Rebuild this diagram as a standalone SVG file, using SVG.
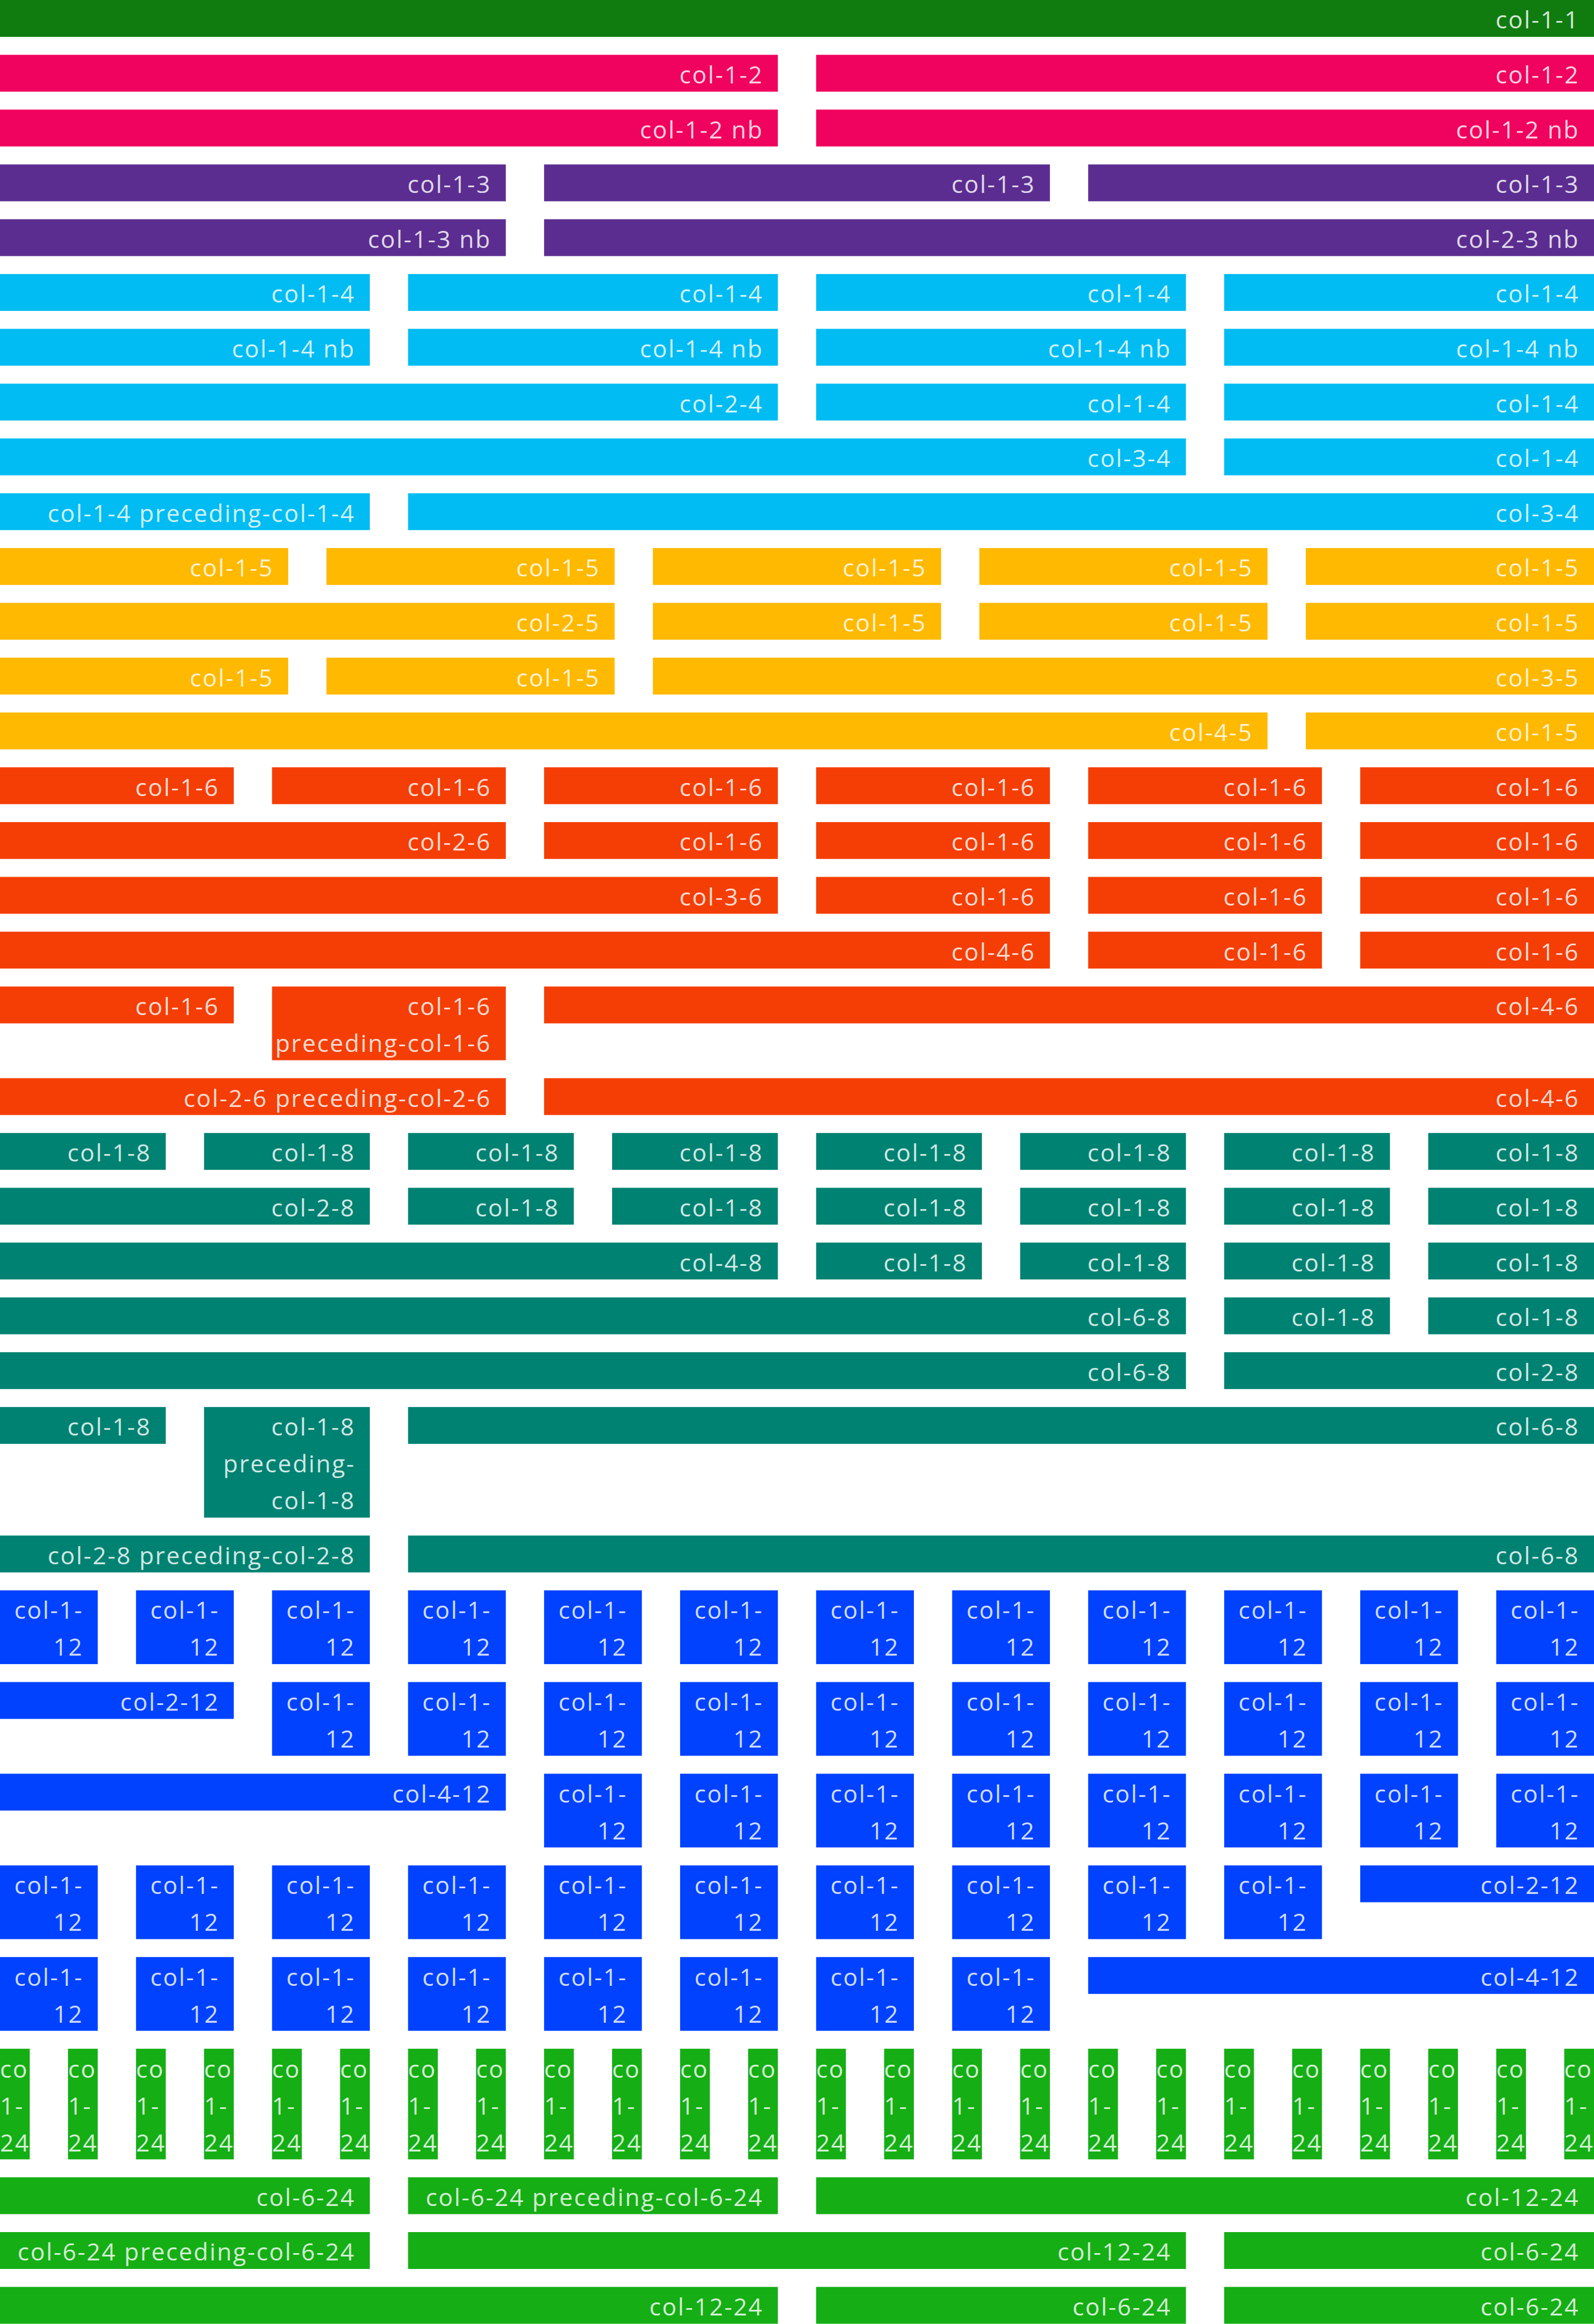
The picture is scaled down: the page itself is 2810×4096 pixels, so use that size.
<svg xmlns="http://www.w3.org/2000/svg" width="2810" height="4096" viewBox="0 0 2810 4096">
<style>
.t{font-family:"Open Sans","Noto Sans","Liberation Sans",sans-serif;font-size:48px;font-weight:400;letter-spacing:2.7px;fill:#fff;fill-opacity:.84;text-anchor:end}
.s{text-anchor:start}
.c1{fill:#107C10}.c2{fill:#F0035E}.c3{fill:#5C2D91}.c4{fill:#00BCF2}.c5{fill:#FFB900}.c6{fill:#F43E06}.c8{fill:#008272}.c12{fill:#0042FF}.c24{fill:#15AE15}
</style>
<rect width="2810" height="4096" fill="#fff"/>
<g transform="scale(0.878125)">
<!-- row 1 -->
<g id="r1b1" transform="translate(0,0)"><rect class="c1" width="3200" height="74"/><text class="t" x="3171" y="57.5">col-1-1</text></g>
<!-- row 2 -->
<g id="r2b1" transform="translate(0,110)"><rect class="c2" width="1561.6" height="74"/><text class="t" x="1532.6" y="57.5">col-1-2</text></g>
<g id="r2b2" transform="translate(1638.4,110)"><rect class="c2" width="1561.6" height="74"/><text class="t" x="1532.6" y="57.5">col-1-2</text></g>
<!-- row 3 -->
<g id="r3b1" transform="translate(0,220)"><rect class="c2" width="1561.6" height="74"/><text class="t" x="1532.6" y="57.5">col-1-2 nb</text></g>
<g id="r3b2" transform="translate(1638.4,220)"><rect class="c2" width="1561.6" height="74"/><text class="t" x="1532.6" y="57.5">col-1-2 nb</text></g>
<!-- row 4 -->
<g id="r4b1" transform="translate(0,330)"><rect class="c3" width="1015.47" height="74"/><text class="t" x="986.47" y="57.5">col-1-3</text></g>
<g id="r4b2" transform="translate(1092.27,330)"><rect class="c3" width="1015.47" height="74"/><text class="t" x="986.47" y="57.5">col-1-3</text></g>
<g id="r4b3" transform="translate(2184.53,330)"><rect class="c3" width="1015.47" height="74"/><text class="t" x="986.47" y="57.5">col-1-3</text></g>
<!-- row 5 -->
<g id="r5b1" transform="translate(0,440)"><rect class="c3" width="1015.47" height="74"/><text class="t" x="986.47" y="57.5">col-1-3 nb</text></g>
<g id="r5b2" transform="translate(1092.27,440)"><rect class="c3" width="2107.73" height="74"/><text class="t" x="2078.73" y="57.5">col-2-3 nb</text></g>
<!-- row 6 -->
<g id="r6b1" transform="translate(0,550)"><rect class="c4" width="742.4" height="74"/><text class="t" x="713.4" y="57.5">col-1-4</text></g>
<g id="r6b2" transform="translate(819.2,550)"><rect class="c4" width="742.4" height="74"/><text class="t" x="713.4" y="57.5">col-1-4</text></g>
<g id="r6b3" transform="translate(1638.4,550)"><rect class="c4" width="742.4" height="74"/><text class="t" x="713.4" y="57.5">col-1-4</text></g>
<g id="r6b4" transform="translate(2457.6,550)"><rect class="c4" width="742.4" height="74"/><text class="t" x="713.4" y="57.5">col-1-4</text></g>
<!-- row 7 -->
<g id="r7b1" transform="translate(0,660)"><rect class="c4" width="742.4" height="74"/><text class="t" x="713.4" y="57.5">col-1-4 nb</text></g>
<g id="r7b2" transform="translate(819.2,660)"><rect class="c4" width="742.4" height="74"/><text class="t" x="713.4" y="57.5">col-1-4 nb</text></g>
<g id="r7b3" transform="translate(1638.4,660)"><rect class="c4" width="742.4" height="74"/><text class="t" x="713.4" y="57.5">col-1-4 nb</text></g>
<g id="r7b4" transform="translate(2457.6,660)"><rect class="c4" width="742.4" height="74"/><text class="t" x="713.4" y="57.5">col-1-4 nb</text></g>
<!-- row 8 -->
<g id="r8b1" transform="translate(0,770)"><rect class="c4" width="1561.6" height="74"/><text class="t" x="1532.6" y="57.5">col-2-4</text></g>
<g id="r8b2" transform="translate(1638.4,770)"><rect class="c4" width="742.4" height="74"/><text class="t" x="713.4" y="57.5">col-1-4</text></g>
<g id="r8b3" transform="translate(2457.6,770)"><rect class="c4" width="742.4" height="74"/><text class="t" x="713.4" y="57.5">col-1-4</text></g>
<!-- row 9 -->
<g id="r9b1" transform="translate(0,880)"><rect class="c4" width="2380.8" height="74"/><text class="t" x="2351.8" y="57.5">col-3-4</text></g>
<g id="r9b2" transform="translate(2457.6,880)"><rect class="c4" width="742.4" height="74"/><text class="t" x="713.4" y="57.5">col-1-4</text></g>
<!-- row 10 -->
<g id="r10b1" transform="translate(0,990)"><rect class="c4" width="742.4" height="74"/><text class="t" x="713.4" y="57.5">col-1-4 preceding-col-1-4</text></g>
<g id="r10b2" transform="translate(819.2,990)"><rect class="c4" width="2380.8" height="74"/><text class="t" x="2351.8" y="57.5">col-3-4</text></g>
<!-- row 11 -->
<g id="r11b1" transform="translate(0,1100)"><rect class="c5" width="578.56" height="74"/><text class="t" x="549.56" y="57.5">col-1-5</text></g>
<g id="r11b2" transform="translate(655.36,1100)"><rect class="c5" width="578.56" height="74"/><text class="t" x="549.56" y="57.5">col-1-5</text></g>
<g id="r11b3" transform="translate(1310.72,1100)"><rect class="c5" width="578.56" height="74"/><text class="t" x="549.56" y="57.5">col-1-5</text></g>
<g id="r11b4" transform="translate(1966.08,1100)"><rect class="c5" width="578.56" height="74"/><text class="t" x="549.56" y="57.5">col-1-5</text></g>
<g id="r11b5" transform="translate(2621.44,1100)"><rect class="c5" width="578.56" height="74"/><text class="t" x="549.56" y="57.5">col-1-5</text></g>
<!-- row 12 -->
<g id="r12b1" transform="translate(0,1210)"><rect class="c5" width="1233.92" height="74"/><text class="t" x="1204.92" y="57.5">col-2-5</text></g>
<g id="r12b2" transform="translate(1310.72,1210)"><rect class="c5" width="578.56" height="74"/><text class="t" x="549.56" y="57.5">col-1-5</text></g>
<g id="r12b3" transform="translate(1966.08,1210)"><rect class="c5" width="578.56" height="74"/><text class="t" x="549.56" y="57.5">col-1-5</text></g>
<g id="r12b4" transform="translate(2621.44,1210)"><rect class="c5" width="578.56" height="74"/><text class="t" x="549.56" y="57.5">col-1-5</text></g>
<!-- row 13 -->
<g id="r13b1" transform="translate(0,1320)"><rect class="c5" width="578.56" height="74"/><text class="t" x="549.56" y="57.5">col-1-5</text></g>
<g id="r13b2" transform="translate(655.36,1320)"><rect class="c5" width="578.56" height="74"/><text class="t" x="549.56" y="57.5">col-1-5</text></g>
<g id="r13b3" transform="translate(1310.72,1320)"><rect class="c5" width="1889.28" height="74"/><text class="t" x="1860.28" y="57.5">col-3-5</text></g>
<!-- row 14 -->
<g id="r14b1" transform="translate(0,1430)"><rect class="c5" width="2544.64" height="74"/><text class="t" x="2515.64" y="57.5">col-4-5</text></g>
<g id="r14b2" transform="translate(2621.44,1430)"><rect class="c5" width="578.56" height="74"/><text class="t" x="549.56" y="57.5">col-1-5</text></g>
<!-- row 15 -->
<g id="r15b1" transform="translate(0,1540)"><rect class="c6" width="469.33" height="74"/><text class="t" x="440.33" y="57.5">col-1-6</text></g>
<g id="r15b2" transform="translate(546.13,1540)"><rect class="c6" width="469.33" height="74"/><text class="t" x="440.33" y="57.5">col-1-6</text></g>
<g id="r15b3" transform="translate(1092.27,1540)"><rect class="c6" width="469.33" height="74"/><text class="t" x="440.33" y="57.5">col-1-6</text></g>
<g id="r15b4" transform="translate(1638.4,1540)"><rect class="c6" width="469.33" height="74"/><text class="t" x="440.33" y="57.5">col-1-6</text></g>
<g id="r15b5" transform="translate(2184.53,1540)"><rect class="c6" width="469.33" height="74"/><text class="t" x="440.33" y="57.5">col-1-6</text></g>
<g id="r15b6" transform="translate(2730.67,1540)"><rect class="c6" width="469.33" height="74"/><text class="t" x="440.33" y="57.5">col-1-6</text></g>
<!-- row 16 -->
<g id="r16b1" transform="translate(0,1650)"><rect class="c6" width="1015.47" height="74"/><text class="t" x="986.47" y="57.5">col-2-6</text></g>
<g id="r16b2" transform="translate(1092.27,1650)"><rect class="c6" width="469.33" height="74"/><text class="t" x="440.33" y="57.5">col-1-6</text></g>
<g id="r16b3" transform="translate(1638.4,1650)"><rect class="c6" width="469.33" height="74"/><text class="t" x="440.33" y="57.5">col-1-6</text></g>
<g id="r16b4" transform="translate(2184.53,1650)"><rect class="c6" width="469.33" height="74"/><text class="t" x="440.33" y="57.5">col-1-6</text></g>
<g id="r16b5" transform="translate(2730.67,1650)"><rect class="c6" width="469.33" height="74"/><text class="t" x="440.33" y="57.5">col-1-6</text></g>
<!-- row 17 -->
<g id="r17b1" transform="translate(0,1760)"><rect class="c6" width="1561.6" height="74"/><text class="t" x="1532.6" y="57.5">col-3-6</text></g>
<g id="r17b2" transform="translate(1638.4,1760)"><rect class="c6" width="469.33" height="74"/><text class="t" x="440.33" y="57.5">col-1-6</text></g>
<g id="r17b3" transform="translate(2184.53,1760)"><rect class="c6" width="469.33" height="74"/><text class="t" x="440.33" y="57.5">col-1-6</text></g>
<g id="r17b4" transform="translate(2730.67,1760)"><rect class="c6" width="469.33" height="74"/><text class="t" x="440.33" y="57.5">col-1-6</text></g>
<!-- row 18 -->
<g id="r18b1" transform="translate(0,1870)"><rect class="c6" width="2107.73" height="74"/><text class="t" x="2078.73" y="57.5">col-4-6</text></g>
<g id="r18b2" transform="translate(2184.53,1870)"><rect class="c6" width="469.33" height="74"/><text class="t" x="440.33" y="57.5">col-1-6</text></g>
<g id="r18b3" transform="translate(2730.67,1870)"><rect class="c6" width="469.33" height="74"/><text class="t" x="440.33" y="57.5">col-1-6</text></g>
<!-- row 19 -->
<g id="r19b1" transform="translate(0,1980)"><rect class="c6" width="469.33" height="74"/><text class="t" x="440.33" y="57.5">col-1-6</text></g>
<g id="r19b2" transform="translate(546.13,1980)"><rect class="c6" width="469.33" height="148"/><text class="t"><tspan x="440.33" y="57.5">col-1-6</tspan><tspan x="440.33" y="131.5">preceding-col-1-6</tspan></text></g>
<g id="r19b3" transform="translate(1092.27,1980)"><rect class="c6" width="2107.73" height="74"/><text class="t" x="2078.73" y="57.5">col-4-6</text></g>
<!-- row 20 -->
<g id="r20b1" transform="translate(0,2164)"><rect class="c6" width="1015.47" height="74"/><text class="t" x="986.47" y="57.5">col-2-6 preceding-col-2-6</text></g>
<g id="r20b2" transform="translate(1092.27,2164)"><rect class="c6" width="2107.73" height="74"/><text class="t" x="2078.73" y="57.5">col-4-6</text></g>
<!-- row 21 -->
<g id="r21b1" transform="translate(0,2274)"><rect class="c8" width="332.8" height="74"/><text class="t" x="303.8" y="57.5">col-1-8</text></g>
<g id="r21b2" transform="translate(409.6,2274)"><rect class="c8" width="332.8" height="74"/><text class="t" x="303.8" y="57.5">col-1-8</text></g>
<g id="r21b3" transform="translate(819.2,2274)"><rect class="c8" width="332.8" height="74"/><text class="t" x="303.8" y="57.5">col-1-8</text></g>
<g id="r21b4" transform="translate(1228.8,2274)"><rect class="c8" width="332.8" height="74"/><text class="t" x="303.8" y="57.5">col-1-8</text></g>
<g id="r21b5" transform="translate(1638.4,2274)"><rect class="c8" width="332.8" height="74"/><text class="t" x="303.8" y="57.5">col-1-8</text></g>
<g id="r21b6" transform="translate(2048,2274)"><rect class="c8" width="332.8" height="74"/><text class="t" x="303.8" y="57.5">col-1-8</text></g>
<g id="r21b7" transform="translate(2457.6,2274)"><rect class="c8" width="332.8" height="74"/><text class="t" x="303.8" y="57.5">col-1-8</text></g>
<g id="r21b8" transform="translate(2867.2,2274)"><rect class="c8" width="332.8" height="74"/><text class="t" x="303.8" y="57.5">col-1-8</text></g>
<!-- row 22 -->
<g id="r22b1" transform="translate(0,2384)"><rect class="c8" width="742.4" height="74"/><text class="t" x="713.4" y="57.5">col-2-8</text></g>
<g id="r22b2" transform="translate(819.2,2384)"><rect class="c8" width="332.8" height="74"/><text class="t" x="303.8" y="57.5">col-1-8</text></g>
<g id="r22b3" transform="translate(1228.8,2384)"><rect class="c8" width="332.8" height="74"/><text class="t" x="303.8" y="57.5">col-1-8</text></g>
<g id="r22b4" transform="translate(1638.4,2384)"><rect class="c8" width="332.8" height="74"/><text class="t" x="303.8" y="57.5">col-1-8</text></g>
<g id="r22b5" transform="translate(2048,2384)"><rect class="c8" width="332.8" height="74"/><text class="t" x="303.8" y="57.5">col-1-8</text></g>
<g id="r22b6" transform="translate(2457.6,2384)"><rect class="c8" width="332.8" height="74"/><text class="t" x="303.8" y="57.5">col-1-8</text></g>
<g id="r22b7" transform="translate(2867.2,2384)"><rect class="c8" width="332.8" height="74"/><text class="t" x="303.8" y="57.5">col-1-8</text></g>
<!-- row 23 -->
<g id="r23b1" transform="translate(0,2494)"><rect class="c8" width="1561.6" height="74"/><text class="t" x="1532.6" y="57.5">col-4-8</text></g>
<g id="r23b2" transform="translate(1638.4,2494)"><rect class="c8" width="332.8" height="74"/><text class="t" x="303.8" y="57.5">col-1-8</text></g>
<g id="r23b3" transform="translate(2048,2494)"><rect class="c8" width="332.8" height="74"/><text class="t" x="303.8" y="57.5">col-1-8</text></g>
<g id="r23b4" transform="translate(2457.6,2494)"><rect class="c8" width="332.8" height="74"/><text class="t" x="303.8" y="57.5">col-1-8</text></g>
<g id="r23b5" transform="translate(2867.2,2494)"><rect class="c8" width="332.8" height="74"/><text class="t" x="303.8" y="57.5">col-1-8</text></g>
<!-- row 24 -->
<g id="r24b1" transform="translate(0,2604)"><rect class="c8" width="2380.8" height="74"/><text class="t" x="2351.8" y="57.5">col-6-8</text></g>
<g id="r24b2" transform="translate(2457.6,2604)"><rect class="c8" width="332.8" height="74"/><text class="t" x="303.8" y="57.5">col-1-8</text></g>
<g id="r24b3" transform="translate(2867.2,2604)"><rect class="c8" width="332.8" height="74"/><text class="t" x="303.8" y="57.5">col-1-8</text></g>
<!-- row 25 -->
<g id="r25b1" transform="translate(0,2714)"><rect class="c8" width="2380.8" height="74"/><text class="t" x="2351.8" y="57.5">col-6-8</text></g>
<g id="r25b2" transform="translate(2457.6,2714)"><rect class="c8" width="742.4" height="74"/><text class="t" x="713.4" y="57.5">col-2-8</text></g>
<!-- row 26 -->
<g id="r26b1" transform="translate(0,2824)"><rect class="c8" width="332.8" height="74"/><text class="t" x="303.8" y="57.5">col-1-8</text></g>
<g id="r26b2" transform="translate(409.6,2824)"><rect class="c8" width="332.8" height="222"/><text class="t"><tspan x="303.8" y="57.5">col-1-8</tspan><tspan x="303.8" y="131.5">preceding-</tspan><tspan x="303.8" y="205.5">col-1-8</tspan></text></g>
<g id="r26b3" transform="translate(819.2,2824)"><rect class="c8" width="2380.8" height="74"/><text class="t" x="2351.8" y="57.5">col-6-8</text></g>
<!-- row 27 -->
<g id="r27b1" transform="translate(0,3082)"><rect class="c8" width="742.4" height="74"/><text class="t" x="713.4" y="57.5">col-2-8 preceding-col-2-8</text></g>
<g id="r27b2" transform="translate(819.2,3082)"><rect class="c8" width="2380.8" height="74"/><text class="t" x="2351.8" y="57.5">col-6-8</text></g>
<!-- row 28 -->
<g id="r28b1" transform="translate(0,3192)"><rect class="c12" width="196.27" height="148"/><text class="t"><tspan x="167.27" y="57.5">col-1-</tspan><tspan x="167.27" y="131.5">12</tspan></text></g>
<g id="r28b2" transform="translate(273.07,3192)"><rect class="c12" width="196.27" height="148"/><text class="t"><tspan x="167.27" y="57.5">col-1-</tspan><tspan x="167.27" y="131.5">12</tspan></text></g>
<g id="r28b3" transform="translate(546.13,3192)"><rect class="c12" width="196.27" height="148"/><text class="t"><tspan x="167.27" y="57.5">col-1-</tspan><tspan x="167.27" y="131.5">12</tspan></text></g>
<g id="r28b4" transform="translate(819.2,3192)"><rect class="c12" width="196.27" height="148"/><text class="t"><tspan x="167.27" y="57.5">col-1-</tspan><tspan x="167.27" y="131.5">12</tspan></text></g>
<g id="r28b5" transform="translate(1092.27,3192)"><rect class="c12" width="196.27" height="148"/><text class="t"><tspan x="167.27" y="57.5">col-1-</tspan><tspan x="167.27" y="131.5">12</tspan></text></g>
<g id="r28b6" transform="translate(1365.33,3192)"><rect class="c12" width="196.27" height="148"/><text class="t"><tspan x="167.27" y="57.5">col-1-</tspan><tspan x="167.27" y="131.5">12</tspan></text></g>
<g id="r28b7" transform="translate(1638.4,3192)"><rect class="c12" width="196.27" height="148"/><text class="t"><tspan x="167.27" y="57.5">col-1-</tspan><tspan x="167.27" y="131.5">12</tspan></text></g>
<g id="r28b8" transform="translate(1911.47,3192)"><rect class="c12" width="196.27" height="148"/><text class="t"><tspan x="167.27" y="57.5">col-1-</tspan><tspan x="167.27" y="131.5">12</tspan></text></g>
<g id="r28b9" transform="translate(2184.53,3192)"><rect class="c12" width="196.27" height="148"/><text class="t"><tspan x="167.27" y="57.5">col-1-</tspan><tspan x="167.27" y="131.5">12</tspan></text></g>
<g id="r28b10" transform="translate(2457.6,3192)"><rect class="c12" width="196.27" height="148"/><text class="t"><tspan x="167.27" y="57.5">col-1-</tspan><tspan x="167.27" y="131.5">12</tspan></text></g>
<g id="r28b11" transform="translate(2730.67,3192)"><rect class="c12" width="196.27" height="148"/><text class="t"><tspan x="167.27" y="57.5">col-1-</tspan><tspan x="167.27" y="131.5">12</tspan></text></g>
<g id="r28b12" transform="translate(3003.73,3192)"><rect class="c12" width="196.27" height="148"/><text class="t"><tspan x="167.27" y="57.5">col-1-</tspan><tspan x="167.27" y="131.5">12</tspan></text></g>
<!-- row 29 -->
<g id="r29b1" transform="translate(0,3376)"><rect class="c12" width="469.33" height="74"/><text class="t" x="440.33" y="57.5">col-2-12</text></g>
<g id="r29b2" transform="translate(546.13,3376)"><rect class="c12" width="196.27" height="148"/><text class="t"><tspan x="167.27" y="57.5">col-1-</tspan><tspan x="167.27" y="131.5">12</tspan></text></g>
<g id="r29b3" transform="translate(819.2,3376)"><rect class="c12" width="196.27" height="148"/><text class="t"><tspan x="167.27" y="57.5">col-1-</tspan><tspan x="167.27" y="131.5">12</tspan></text></g>
<g id="r29b4" transform="translate(1092.27,3376)"><rect class="c12" width="196.27" height="148"/><text class="t"><tspan x="167.27" y="57.5">col-1-</tspan><tspan x="167.27" y="131.5">12</tspan></text></g>
<g id="r29b5" transform="translate(1365.33,3376)"><rect class="c12" width="196.27" height="148"/><text class="t"><tspan x="167.27" y="57.5">col-1-</tspan><tspan x="167.27" y="131.5">12</tspan></text></g>
<g id="r29b6" transform="translate(1638.4,3376)"><rect class="c12" width="196.27" height="148"/><text class="t"><tspan x="167.27" y="57.5">col-1-</tspan><tspan x="167.27" y="131.5">12</tspan></text></g>
<g id="r29b7" transform="translate(1911.47,3376)"><rect class="c12" width="196.27" height="148"/><text class="t"><tspan x="167.27" y="57.5">col-1-</tspan><tspan x="167.27" y="131.5">12</tspan></text></g>
<g id="r29b8" transform="translate(2184.53,3376)"><rect class="c12" width="196.27" height="148"/><text class="t"><tspan x="167.27" y="57.5">col-1-</tspan><tspan x="167.27" y="131.5">12</tspan></text></g>
<g id="r29b9" transform="translate(2457.6,3376)"><rect class="c12" width="196.27" height="148"/><text class="t"><tspan x="167.27" y="57.5">col-1-</tspan><tspan x="167.27" y="131.5">12</tspan></text></g>
<g id="r29b10" transform="translate(2730.67,3376)"><rect class="c12" width="196.27" height="148"/><text class="t"><tspan x="167.27" y="57.5">col-1-</tspan><tspan x="167.27" y="131.5">12</tspan></text></g>
<g id="r29b11" transform="translate(3003.73,3376)"><rect class="c12" width="196.27" height="148"/><text class="t"><tspan x="167.27" y="57.5">col-1-</tspan><tspan x="167.27" y="131.5">12</tspan></text></g>
<!-- row 30 -->
<g id="r30b1" transform="translate(0,3560)"><rect class="c12" width="1015.47" height="74"/><text class="t" x="986.47" y="57.5">col-4-12</text></g>
<g id="r30b2" transform="translate(1092.27,3560)"><rect class="c12" width="196.27" height="148"/><text class="t"><tspan x="167.27" y="57.5">col-1-</tspan><tspan x="167.27" y="131.5">12</tspan></text></g>
<g id="r30b3" transform="translate(1365.33,3560)"><rect class="c12" width="196.27" height="148"/><text class="t"><tspan x="167.27" y="57.5">col-1-</tspan><tspan x="167.27" y="131.5">12</tspan></text></g>
<g id="r30b4" transform="translate(1638.4,3560)"><rect class="c12" width="196.27" height="148"/><text class="t"><tspan x="167.27" y="57.5">col-1-</tspan><tspan x="167.27" y="131.5">12</tspan></text></g>
<g id="r30b5" transform="translate(1911.47,3560)"><rect class="c12" width="196.27" height="148"/><text class="t"><tspan x="167.27" y="57.5">col-1-</tspan><tspan x="167.27" y="131.5">12</tspan></text></g>
<g id="r30b6" transform="translate(2184.53,3560)"><rect class="c12" width="196.27" height="148"/><text class="t"><tspan x="167.27" y="57.5">col-1-</tspan><tspan x="167.27" y="131.5">12</tspan></text></g>
<g id="r30b7" transform="translate(2457.6,3560)"><rect class="c12" width="196.27" height="148"/><text class="t"><tspan x="167.27" y="57.5">col-1-</tspan><tspan x="167.27" y="131.5">12</tspan></text></g>
<g id="r30b8" transform="translate(2730.67,3560)"><rect class="c12" width="196.27" height="148"/><text class="t"><tspan x="167.27" y="57.5">col-1-</tspan><tspan x="167.27" y="131.5">12</tspan></text></g>
<g id="r30b9" transform="translate(3003.73,3560)"><rect class="c12" width="196.27" height="148"/><text class="t"><tspan x="167.27" y="57.5">col-1-</tspan><tspan x="167.27" y="131.5">12</tspan></text></g>
<!-- row 31 -->
<g id="r31b1" transform="translate(0,3744)"><rect class="c12" width="196.27" height="148"/><text class="t"><tspan x="167.27" y="57.5">col-1-</tspan><tspan x="167.27" y="131.5">12</tspan></text></g>
<g id="r31b2" transform="translate(273.07,3744)"><rect class="c12" width="196.27" height="148"/><text class="t"><tspan x="167.27" y="57.5">col-1-</tspan><tspan x="167.27" y="131.5">12</tspan></text></g>
<g id="r31b3" transform="translate(546.13,3744)"><rect class="c12" width="196.27" height="148"/><text class="t"><tspan x="167.27" y="57.5">col-1-</tspan><tspan x="167.27" y="131.5">12</tspan></text></g>
<g id="r31b4" transform="translate(819.2,3744)"><rect class="c12" width="196.27" height="148"/><text class="t"><tspan x="167.27" y="57.5">col-1-</tspan><tspan x="167.27" y="131.5">12</tspan></text></g>
<g id="r31b5" transform="translate(1092.27,3744)"><rect class="c12" width="196.27" height="148"/><text class="t"><tspan x="167.27" y="57.5">col-1-</tspan><tspan x="167.27" y="131.5">12</tspan></text></g>
<g id="r31b6" transform="translate(1365.33,3744)"><rect class="c12" width="196.27" height="148"/><text class="t"><tspan x="167.27" y="57.5">col-1-</tspan><tspan x="167.27" y="131.5">12</tspan></text></g>
<g id="r31b7" transform="translate(1638.4,3744)"><rect class="c12" width="196.27" height="148"/><text class="t"><tspan x="167.27" y="57.5">col-1-</tspan><tspan x="167.27" y="131.5">12</tspan></text></g>
<g id="r31b8" transform="translate(1911.47,3744)"><rect class="c12" width="196.27" height="148"/><text class="t"><tspan x="167.27" y="57.5">col-1-</tspan><tspan x="167.27" y="131.5">12</tspan></text></g>
<g id="r31b9" transform="translate(2184.53,3744)"><rect class="c12" width="196.27" height="148"/><text class="t"><tspan x="167.27" y="57.5">col-1-</tspan><tspan x="167.27" y="131.5">12</tspan></text></g>
<g id="r31b10" transform="translate(2457.6,3744)"><rect class="c12" width="196.27" height="148"/><text class="t"><tspan x="167.27" y="57.5">col-1-</tspan><tspan x="167.27" y="131.5">12</tspan></text></g>
<g id="r31b11" transform="translate(2730.67,3744)"><rect class="c12" width="469.33" height="74"/><text class="t" x="440.33" y="57.5">col-2-12</text></g>
<!-- row 32 -->
<g id="r32b1" transform="translate(0,3928)"><rect class="c12" width="196.27" height="148"/><text class="t"><tspan x="167.27" y="57.5">col-1-</tspan><tspan x="167.27" y="131.5">12</tspan></text></g>
<g id="r32b2" transform="translate(273.07,3928)"><rect class="c12" width="196.27" height="148"/><text class="t"><tspan x="167.27" y="57.5">col-1-</tspan><tspan x="167.27" y="131.5">12</tspan></text></g>
<g id="r32b3" transform="translate(546.13,3928)"><rect class="c12" width="196.27" height="148"/><text class="t"><tspan x="167.27" y="57.5">col-1-</tspan><tspan x="167.27" y="131.5">12</tspan></text></g>
<g id="r32b4" transform="translate(819.2,3928)"><rect class="c12" width="196.27" height="148"/><text class="t"><tspan x="167.27" y="57.5">col-1-</tspan><tspan x="167.27" y="131.5">12</tspan></text></g>
<g id="r32b5" transform="translate(1092.27,3928)"><rect class="c12" width="196.27" height="148"/><text class="t"><tspan x="167.27" y="57.5">col-1-</tspan><tspan x="167.27" y="131.5">12</tspan></text></g>
<g id="r32b6" transform="translate(1365.33,3928)"><rect class="c12" width="196.27" height="148"/><text class="t"><tspan x="167.27" y="57.5">col-1-</tspan><tspan x="167.27" y="131.5">12</tspan></text></g>
<g id="r32b7" transform="translate(1638.4,3928)"><rect class="c12" width="196.27" height="148"/><text class="t"><tspan x="167.27" y="57.5">col-1-</tspan><tspan x="167.27" y="131.5">12</tspan></text></g>
<g id="r32b8" transform="translate(1911.47,3928)"><rect class="c12" width="196.27" height="148"/><text class="t"><tspan x="167.27" y="57.5">col-1-</tspan><tspan x="167.27" y="131.5">12</tspan></text></g>
<g id="r32b9" transform="translate(2184.53,3928)"><rect class="c12" width="1015.47" height="74"/><text class="t" x="986.47" y="57.5">col-4-12</text></g>
<!-- row 33 -->
<g id="r33b1" transform="translate(0,4112)"><rect class="c24" width="59.73" height="222"/><text class="t s"><tspan x="0" y="58.5">co</tspan><tspan x="0" y="132.5">1-</tspan><tspan x="0" y="206.5">24</tspan></text></g>
<g id="r33b2" transform="translate(136.53,4112)"><rect class="c24" width="59.73" height="222"/><text class="t s"><tspan x="0" y="58.5">co</tspan><tspan x="0" y="132.5">1-</tspan><tspan x="0" y="206.5">24</tspan></text></g>
<g id="r33b3" transform="translate(273.07,4112)"><rect class="c24" width="59.73" height="222"/><text class="t s"><tspan x="0" y="58.5">co</tspan><tspan x="0" y="132.5">1-</tspan><tspan x="0" y="206.5">24</tspan></text></g>
<g id="r33b4" transform="translate(409.6,4112)"><rect class="c24" width="59.73" height="222"/><text class="t s"><tspan x="0" y="58.5">co</tspan><tspan x="0" y="132.5">1-</tspan><tspan x="0" y="206.5">24</tspan></text></g>
<g id="r33b5" transform="translate(546.13,4112)"><rect class="c24" width="59.73" height="222"/><text class="t s"><tspan x="0" y="58.5">co</tspan><tspan x="0" y="132.5">1-</tspan><tspan x="0" y="206.5">24</tspan></text></g>
<g id="r33b6" transform="translate(682.67,4112)"><rect class="c24" width="59.73" height="222"/><text class="t s"><tspan x="0" y="58.5">co</tspan><tspan x="0" y="132.5">1-</tspan><tspan x="0" y="206.5">24</tspan></text></g>
<g id="r33b7" transform="translate(819.2,4112)"><rect class="c24" width="59.73" height="222"/><text class="t s"><tspan x="0" y="58.5">co</tspan><tspan x="0" y="132.5">1-</tspan><tspan x="0" y="206.5">24</tspan></text></g>
<g id="r33b8" transform="translate(955.73,4112)"><rect class="c24" width="59.73" height="222"/><text class="t s"><tspan x="0" y="58.5">co</tspan><tspan x="0" y="132.5">1-</tspan><tspan x="0" y="206.5">24</tspan></text></g>
<g id="r33b9" transform="translate(1092.27,4112)"><rect class="c24" width="59.73" height="222"/><text class="t s"><tspan x="0" y="58.5">co</tspan><tspan x="0" y="132.5">1-</tspan><tspan x="0" y="206.5">24</tspan></text></g>
<g id="r33b10" transform="translate(1228.8,4112)"><rect class="c24" width="59.73" height="222"/><text class="t s"><tspan x="0" y="58.5">co</tspan><tspan x="0" y="132.5">1-</tspan><tspan x="0" y="206.5">24</tspan></text></g>
<g id="r33b11" transform="translate(1365.33,4112)"><rect class="c24" width="59.73" height="222"/><text class="t s"><tspan x="0" y="58.5">co</tspan><tspan x="0" y="132.5">1-</tspan><tspan x="0" y="206.5">24</tspan></text></g>
<g id="r33b12" transform="translate(1501.87,4112)"><rect class="c24" width="59.73" height="222"/><text class="t s"><tspan x="0" y="58.5">co</tspan><tspan x="0" y="132.5">1-</tspan><tspan x="0" y="206.5">24</tspan></text></g>
<g id="r33b13" transform="translate(1638.4,4112)"><rect class="c24" width="59.73" height="222"/><text class="t s"><tspan x="0" y="58.5">co</tspan><tspan x="0" y="132.5">1-</tspan><tspan x="0" y="206.5">24</tspan></text></g>
<g id="r33b14" transform="translate(1774.93,4112)"><rect class="c24" width="59.73" height="222"/><text class="t s"><tspan x="0" y="58.5">co</tspan><tspan x="0" y="132.5">1-</tspan><tspan x="0" y="206.5">24</tspan></text></g>
<g id="r33b15" transform="translate(1911.47,4112)"><rect class="c24" width="59.73" height="222"/><text class="t s"><tspan x="0" y="58.5">co</tspan><tspan x="0" y="132.5">1-</tspan><tspan x="0" y="206.5">24</tspan></text></g>
<g id="r33b16" transform="translate(2048,4112)"><rect class="c24" width="59.73" height="222"/><text class="t s"><tspan x="0" y="58.5">co</tspan><tspan x="0" y="132.5">1-</tspan><tspan x="0" y="206.5">24</tspan></text></g>
<g id="r33b17" transform="translate(2184.53,4112)"><rect class="c24" width="59.73" height="222"/><text class="t s"><tspan x="0" y="58.5">co</tspan><tspan x="0" y="132.5">1-</tspan><tspan x="0" y="206.5">24</tspan></text></g>
<g id="r33b18" transform="translate(2321.07,4112)"><rect class="c24" width="59.73" height="222"/><text class="t s"><tspan x="0" y="58.5">co</tspan><tspan x="0" y="132.5">1-</tspan><tspan x="0" y="206.5">24</tspan></text></g>
<g id="r33b19" transform="translate(2457.6,4112)"><rect class="c24" width="59.73" height="222"/><text class="t s"><tspan x="0" y="58.5">co</tspan><tspan x="0" y="132.5">1-</tspan><tspan x="0" y="206.5">24</tspan></text></g>
<g id="r33b20" transform="translate(2594.13,4112)"><rect class="c24" width="59.73" height="222"/><text class="t s"><tspan x="0" y="58.5">co</tspan><tspan x="0" y="132.5">1-</tspan><tspan x="0" y="206.5">24</tspan></text></g>
<g id="r33b21" transform="translate(2730.67,4112)"><rect class="c24" width="59.73" height="222"/><text class="t s"><tspan x="0" y="58.5">co</tspan><tspan x="0" y="132.5">1-</tspan><tspan x="0" y="206.5">24</tspan></text></g>
<g id="r33b22" transform="translate(2867.2,4112)"><rect class="c24" width="59.73" height="222"/><text class="t s"><tspan x="0" y="58.5">co</tspan><tspan x="0" y="132.5">1-</tspan><tspan x="0" y="206.5">24</tspan></text></g>
<g id="r33b23" transform="translate(3003.73,4112)"><rect class="c24" width="59.73" height="222"/><text class="t s"><tspan x="0" y="58.5">co</tspan><tspan x="0" y="132.5">1-</tspan><tspan x="0" y="206.5">24</tspan></text></g>
<g id="r33b24" transform="translate(3140.27,4112)"><rect class="c24" width="59.73" height="222"/><text class="t s"><tspan x="0" y="58.5">co</tspan><tspan x="0" y="132.5">1-</tspan><tspan x="0" y="206.5">24</tspan></text></g>
<!-- row 34 -->
<g id="r34b1" transform="translate(0,4370)"><rect class="c24" width="742.4" height="74"/><text class="t" x="713.4" y="57.5">col-6-24</text></g>
<g id="r34b2" transform="translate(819.2,4370)"><rect class="c24" width="742.4" height="74"/><text class="t" x="713.4" y="57.5">col-6-24 preceding-col-6-24</text></g>
<g id="r34b3" transform="translate(1638.4,4370)"><rect class="c24" width="1561.6" height="74"/><text class="t" x="1532.6" y="57.5">col-12-24</text></g>
<!-- row 35 -->
<g id="r35b1" transform="translate(0,4480)"><rect class="c24" width="742.4" height="74"/><text class="t" x="713.4" y="57.5">col-6-24 preceding-col-6-24</text></g>
<g id="r35b2" transform="translate(819.2,4480)"><rect class="c24" width="1561.6" height="74"/><text class="t" x="1532.6" y="57.5">col-12-24</text></g>
<g id="r35b3" transform="translate(2457.6,4480)"><rect class="c24" width="742.4" height="74"/><text class="t" x="713.4" y="57.5">col-6-24</text></g>
<!-- row 36 -->
<g id="r36b1" transform="translate(0,4590)"><rect class="c24" width="1561.6" height="74"/><text class="t" x="1532.6" y="57.5">col-12-24</text></g>
<g id="r36b2" transform="translate(1638.4,4590)"><rect class="c24" width="742.4" height="74"/><text class="t" x="713.4" y="57.5">col-6-24</text></g>
<g id="r36b3" transform="translate(2457.6,4590)"><rect class="c24" width="742.4" height="74"/><text class="t" x="713.4" y="57.5">col-6-24</text></g>
</g>
</svg>
